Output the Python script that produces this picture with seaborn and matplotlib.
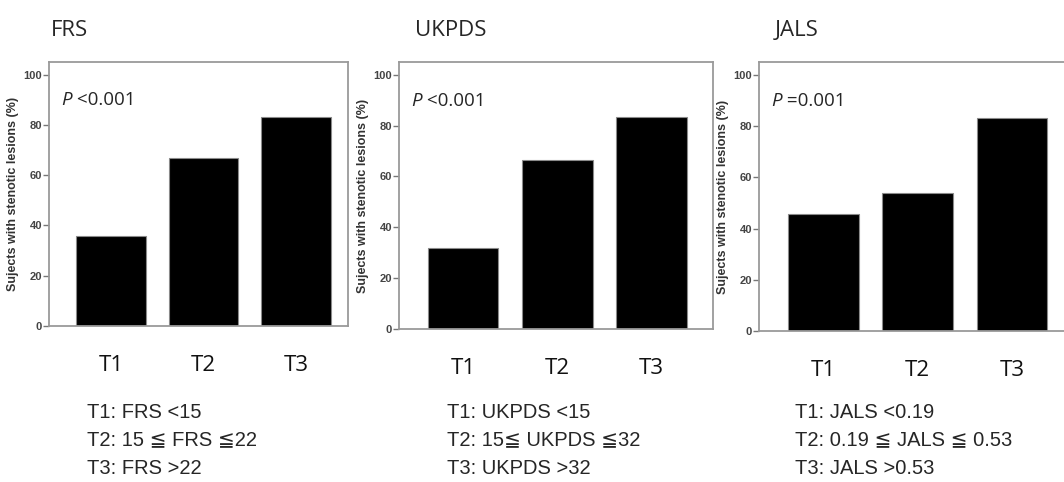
import matplotlib
matplotlib.use("Agg")
import matplotlib.pyplot as plt
import seaborn as sns

# ---- data ----
categories = ["T1", "T2", "T3"]
frs_values = [35.9, 66.9, 83.0]
ukpds_values = [31.9, 66.6, 83.4]
jals_values = [45.6, 54.0, 83.3]
panel_titles = ["FRS", "UKPDS", "JALS"]
p_labels = ["<0.001", "<0.001", "=0.001"]
footnotes = [
    ["T1: FRS <15", "T2: 15 \u2266 FRS \u226622", "T3: FRS >22"],
    ["T1: UKPDS <15", "T2: 15\u2266 UKPDS \u226632", "T3: UKPDS >32"],
    ["T1: JALS <0.19", "T2: 0.19 \u2266 JALS \u2266 0.53", "T3: JALS >0.53"],
]
y_label = "Sujects with stenotic lesions (%)"
y_ticks = [0, 20, 40, 60, 80, 100]

sns.set_theme(style="white")
plt.rcParams["font.family"] = ["Liberation Sans", "DejaVu Sans"]

fig = plt.figure(figsize=(10.64, 4.82), dpi=100)
W, H = 1064, 482

# axes rectangles in pixels: left, top, right, bottom
rects = [(49, 62, 348, 326), (399, 62, 713, 329), (759, 62, 1073, 331)]
xlims = [(-0.67, 2.56), (-0.68, 2.65), (-0.686, 2.65)]
title_x = [51, 415, 775]
foot_x = [87, 447, 795]
all_values = [frs_values, ukpds_values, jals_values]

spine_col = "#9a9a9a"
for i in range(3):
    l, t, r, b = rects[i]
    ax = fig.add_axes([l / W, (H - b) / H, (r - l) / W, (b - t) / H])
    sns.barplot(x=categories, y=all_values[i], ax=ax, color="black",
                saturation=1, width=0.75, edgecolor="#8a8a8a", linewidth=0.8)
    ax.set_ylim(0, 105)
    ax.set_xlim(*xlims[i])
    ax.set_yticks(y_ticks)
    ax.set_yticklabels([str(v) for v in y_ticks], fontsize=8, fontweight="bold",
                       color="#444444")
    ax.tick_params(axis="y", which="both", left=True, length=4, width=1,
                   color="#777777", pad=1)
    ax.tick_params(axis="x", length=0, pad=21, labelsize=16)
    for lab in ax.get_xticklabels():
        lab.set_fontfamily(["Open Sans", "DejaVu Sans"])
        lab.set_color("#111111")
    ax.set_xlabel("")
    ax.set_ylabel(y_label, fontsize=9, fontweight="bold", color="#333333",
                  labelpad=3)
    for sp in ax.spines.values():
        sp.set_color(spine_col)
        sp.set_linewidth(1.3)
        sp.set_visible(True)
    ax.grid(False)

    # P-value annotation
    ptxt = ax.text(0.04, 0.855, "P", transform=ax.transAxes, fontsize=13.5,
                   style="italic", va="center", ha="left",
                   family=["Open Sans", "DejaVu Sans"])
    ax.annotate(" " + p_labels[i], xy=(1, 0.5), xycoords=ptxt,
                va="center", ha="left", fontsize=13.5,
                family=["Open Sans", "DejaVu Sans"])

    # panel title
    fig.text(title_x[i] / W, (H - 31) / H, panel_titles[i], fontsize=16,
             family=["Open Sans", "DejaVu Sans"], va="center", ha="left")

    # footnotes
    for j, line in enumerate(footnotes[i]):
        fig.text(foot_x[i] / W, (H - (412 + 28 * j)) / H, line, fontsize=14.5,
                 va="center", ha="left",
                 family=["Liberation Sans", "DejaVu Sans"])

fig.savefig("out.png", dpi=100)
